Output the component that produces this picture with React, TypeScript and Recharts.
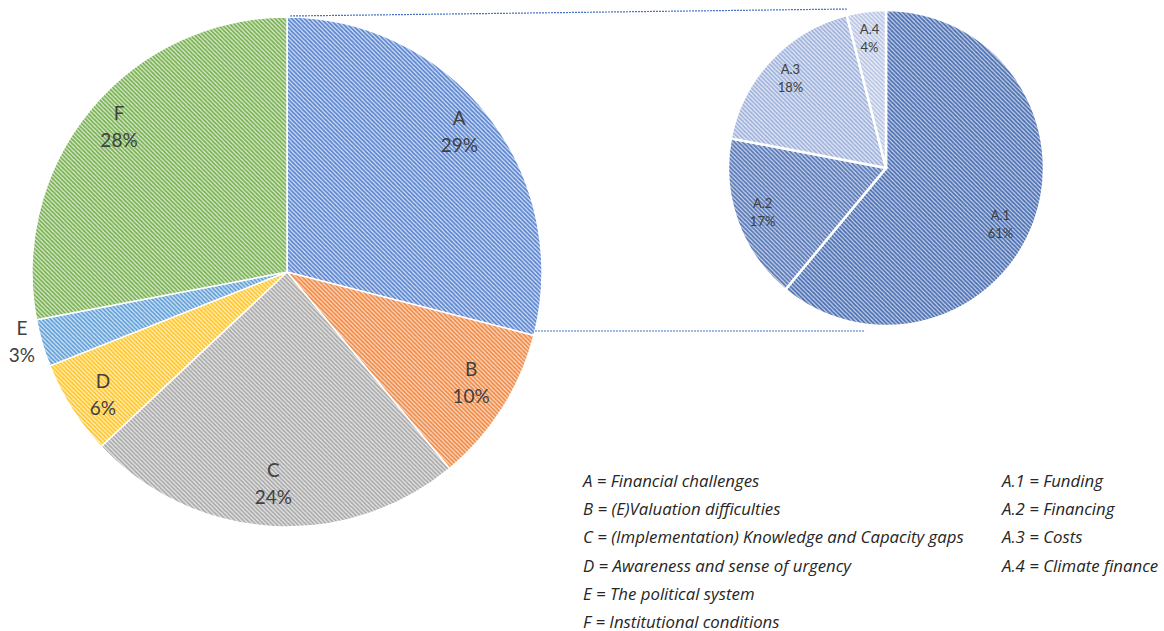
import { Cell, Pie, PieChart } from "recharts";

const mainNames = ["A", "B", "C", "D", "E", "F"];
const mainValues = [29, 10, 24, 6, 3, 28];
const subNames = ["A.1", "A.2", "A.3", "A.4"];
const subValues = [61, 17, 18, 4];
const mainLegend = [
  "A = Financial challenges",
  "B = (E)Valuation difficulties",
  "C = (Implementation) Knowledge and Capacity gaps",
  "D = Awareness and sense of urgency",
  "E = The political system",
  "F = Institutional conditions",
];
const subLegend = [
  "A.1 = Funding",
  "A.2 = Financing",
  "A.3 = Costs",
  "A.4 = Climate finance",
];

const mainData = mainNames.map((name, i) => ({ name, value: mainValues[i] }));
const subData = subNames.map((name, i) => ({ name, value: subValues[i] }));

// stripe colour / background colour for each hatch
const mainHatch = [
  ["#5a85d0", "#d8e2f5"],
  ["#f08a45", "#fbdcc8"],
  ["#aaaaaa", "#e8e8e8"],
  ["#ffc62a", "#fff0c4"],
  ["#5f9fd8", "#d8e7f6"],
  ["#78b150", "#deecd4"],
];
const subHatch = [
  ["#4a6fb3", "#c8d2e8"],
  ["#5677b8", "#cbd5ea"],
  ["#9fb2dc", "#e6ebf6"],
  ["#b7c4e4", "#eff2f9"],
];

const W = 1164;
const H = 631;
const MAIN = { cx: 287, cy: 272, r: 255 };
const SUB = { cx: 886, cy: 168, r: 158 };
const RADIAN = Math.PI / 180;
const FONT = "Lato, 'Open Sans', sans-serif";

const Hatch = ({ id, fg, bg }: { id: string; fg: string; bg: string }) => (
  <pattern id={id} patternUnits="userSpaceOnUse" width={4.2} height={4.2}>
    <rect width={4.2} height={4.2} fill={bg} />
    <path
      d="M-1,-1 L5.2,5.2 M-1,3.2 L1,5.2 M3.2,-1 L5.2,1"
      stroke={fg}
      strokeWidth={1.7}
    />
  </pattern>
);

const mainLabel = (p: any) => {
  const outside = p.name === "E";
  const r = outside ? MAIN.r + 19 : MAIN.r * 0.855;
  const x = p.cx + r * Math.cos(-p.midAngle * RADIAN) + (outside ? -2 : 0);
  const y = p.cy + r * Math.sin(-p.midAngle * RADIAN) + (p.name === "D" ? 12 : 0);
  return (
    <text x={x} y={y} textAnchor="middle" fill="#404040" fontSize={19} fontFamily={FONT}>
      <tspan x={x} dy={-13}>{p.name}</tspan>
      <tspan x={x} dy={27}>{`${Math.round(p.percent * 100)}%`}</tspan>
    </text>
  );
};

const subLabel = (p: any) => {
  const r = SUB.r * 0.83;
  const a1 = p.name === "A.1";
  const x = p.cx + r * Math.cos(-p.midAngle * RADIAN) + (a1 ? -9 : 0);
  const y = p.cy + r * Math.sin(-p.midAngle * RADIAN) + (a1 ? 12 : 0);
  return (
    <text x={x} y={y} textAnchor="middle" fill="#404040" fontSize={13} fontFamily={FONT}>
      <tspan x={x} dy={-4}>{p.name}</tspan>
      <tspan x={x} dy={18}>{`${Math.round(p.percent * 100)}%`}</tspan>
    </text>
  );
};

const legendStyle = {
  position: "absolute" as const,
  fontFamily: "'Open Sans', 'Noto Sans', sans-serif",
  fontStyle: "italic",
  fontSize: 16.8,
  color: "#262626",
  lineHeight: "28.2px",
  whiteSpace: "nowrap" as const,
};

export default function App() {
  return (
    <div style={{ position: "absolute", left: 0, top: 0, width: W, height: H, background: "#fff" }}>
      <PieChart width={W} height={H} margin={{ top: 0, right: 0, bottom: 0, left: 0 }}>
        <defs>
          {mainHatch.map(([fg, bg], i) => (
            <Hatch key={`m${i}`} id={`hm${i}`} fg={fg} bg={bg} />
          ))}
          {subHatch.map(([fg, bg], i) => (
            <Hatch key={`s${i}`} id={`hs${i}`} fg={fg} bg={bg} />
          ))}
        </defs>
        <Pie
          data={mainData}
          dataKey="value"
          nameKey="name"
          cx={MAIN.cx}
          cy={MAIN.cy}
          outerRadius={MAIN.r}
          startAngle={90}
          endAngle={-270}
          stroke="#ffffff"
          strokeWidth={1.5}
          label={mainLabel}
          labelLine={false}
          isAnimationActive={false}
        >
          {mainData.map((d, i) => (
            <Cell key={d.name} fill={`url(#hm${i})`} />
          ))}
        </Pie>
        <Pie
          data={subData}
          dataKey="value"
          nameKey="name"
          cx={SUB.cx}
          cy={SUB.cy}
          outerRadius={SUB.r}
          startAngle={90}
          endAngle={-270}
          stroke="#ffffff"
          strokeWidth={2.5}
          label={subLabel}
          labelLine={false}
          isAnimationActive={false}
        >
          {subData.map((d, i) => (
            <Cell key={d.name} fill={`url(#hs${i})`} />
          ))}
        </Pie>
      </PieChart>
      <svg width={W} height={H} style={{ position: "absolute", left: 0, top: 0, pointerEvents: "none" }}>
        <line
          x1={MAIN.cx + 3}
          y1={MAIN.cy - MAIN.r - 1}
          x2={SUB.cx - 38}
          y2={SUB.cy - SUB.r - 1}
          stroke="#4472c4"
          strokeWidth={1.2}
          strokeDasharray="2 1"
        />
        <line
          x1={535}
          y1={331}
          x2={865}
          y2={331}
          stroke="#4472c4"
          strokeWidth={1.2}
          strokeDasharray="2 1"
        />
      </svg>
      <div style={{ ...legendStyle, left: 583, top: 467 }}>
        {mainLegend.map((t) => (
          <div key={t}>{t}</div>
        ))}
      </div>
      <div style={{ ...legendStyle, left: 1002, top: 467 }}>
        {subLegend.map((t) => (
          <div key={t}>{t}</div>
        ))}
      </div>
    </div>
  );
}
